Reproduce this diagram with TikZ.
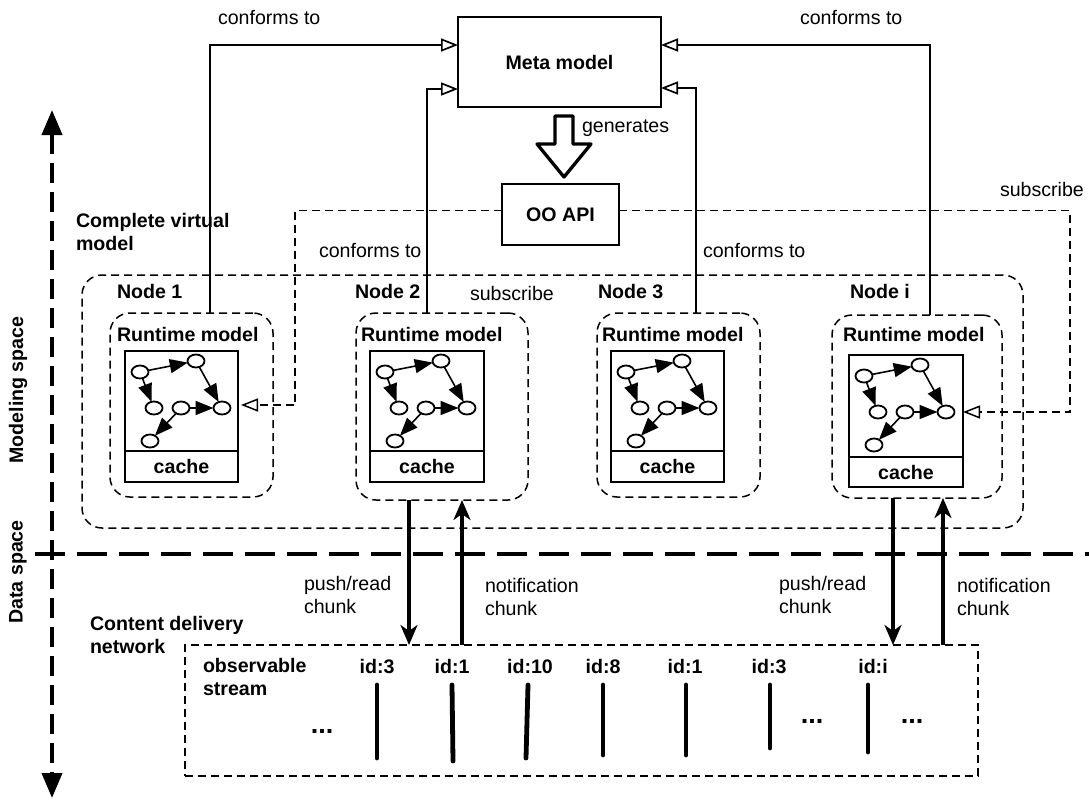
\documentclass[tikz,border=0pt]{standalone}
\usepackage{fontspec}
\setmainfont{Liberation Sans}
\usetikzlibrary{arrows.meta,shapes.geometric,calc}
\newcommand\rtgraph[1]{%
  \begin{scope}[shift={(#1.north west)}]
    \node[gnode] (#1a) at (15,21) {};
    \node[gnode] (#1b) at (71,10) {};
    \node[gnode] (#1c) at (29,57) {};
    \node[gnode] (#1d) at (56,57) {};
    \node[gnode] (#1e) at (97,57) {};
    \node[gnode] (#1f) at (25,90) {};
    \draw[garrow] (#1a) -- (#1b);
    \draw[garrow] (#1a) -- (#1c);
    \draw[garrow] (#1b) -- (#1e);
    \draw[garrow] (#1d) -- (#1e);
    \draw[garrow] (#1d) -- (#1f);
  \end{scope}}
\begin{document}
\begin{tikzpicture}[x=1pt,y=-1pt,
  every node/.style={inner sep=0pt, outer sep=0pt, font=\fontsize{19.6}{23.5}\selectfont},
  txt/.style={anchor=base west},
  bf/.style={font=\fontsize{19.6}{23.5}\selectfont\bfseries},
  btxt/.style={anchor=base west, bf},
  solidbox/.style={draw, line width=1.7pt},
  thindash/.style={line width=1.5pt, dash pattern=on 8pt off 5pt},
  rbox/.style={draw, thindash, rounded corners=20pt},
  conf/.style={line width=1.7pt, -{Triangle[open,length=17pt,width=13pt,fill=white]}},
  subs/.style={thindash, -{Triangle[open,length=17pt,width=13pt,fill=white]}},
  gnode/.style={draw, ellipse, line width=1.8pt, minimum width=17pt, minimum height=13pt, fill=white},
  garrow/.style={line width=1.6pt, -{Triangle[length=18pt,width=14pt]}},
  chunkarrow/.style={line width=3.2pt, -{Stealth[length=20pt,width=17pt,inset=6pt]}},
  bar/.style={line width=4.8pt, line cap=round},
  axis/.style={line width=4pt, dash pattern=on 20pt off 9pt},
  sep/.style={line width=4pt, dash pattern=on 30pt off 12pt},
  dots/.style={anchor=base, font=\fontsize{27}{30}\selectfont\bfseries},
]
\fill[white] (0,0) rectangle (1089,800);
\useasboundingbox (0,0) rectangle (1089,800);

% axis
\coordinate (axtop) at (52,110);
\coordinate (axbot) at (52,798);
\draw[axis, {Triangle[length=25pt,width=20pt]}-{Triangle[length=25pt,width=20pt]}] (axtop) -- (axbot);
\coordinate (sepL) at (35,554);
\coordinate (sepR) at (1089,554);
\draw[sep] (sepL) -- (sepR);
\node[bf, rotate=90] (modsp) at (18,390) {Modeling space};
\node[bf, rotate=90] (datsp) at (18,572) {Data space};

% meta model and API
\node[solidbox, bf, minimum width=203pt, minimum height=90pt] (meta) at (559.5,62) {Meta model};
\node[solidbox, bf, minimum width=117pt, minimum height=61pt] (oo) at (560.5,214.5) {OO API};
\draw[line width=3.3pt, line join=round] (555,116) -- (573,116) -- (573,144) -- (591,144) -- (564,177) -- (537,144) -- (555,144) -- cycle;
\node[txt] (gen) at (582,132) {generates};

% complete virtual model
\node[rbox, minimum width=941pt, minimum height=253pt] (cvm) at (552.5,401.5) {};
\node[bf, anchor=north west, align=left] (cvmlbl) at (76,213) {Complete virtual\\model};

% nodes
\node[rbox, minimum width=163pt, minimum height=184pt] (n1r) at (191.5,405) {};
\node[rbox, minimum width=172pt, minimum height=187pt] (n2r) at (442,406.5) {};
\node[rbox, minimum width=163pt, minimum height=184pt] (n3r) at (678.5,405) {};
\node[rbox, minimum width=170pt, minimum height=183pt] (nir) at (917,406.5) {};

\node[btxt] (n1l) at (117,298) {Node 1};
\node[btxt] (n2l) at (355,298) {Node 2};
\node[btxt] (n3l) at (598,298) {Node 3};
\node[btxt] (nil) at (850,298) {Node i};

\node[btxt] (n1t) at (117,341) {Runtime model};
\node[btxt] (n2t) at (361,341) {Runtime model};
\node[btxt] (n3t) at (602,341) {Runtime model};
\node[btxt] (nit) at (843,341) {Runtime model};

\node[solidbox, minimum width=113pt, minimum height=100pt] (n1g) at (181.5,401) {};
\node[solidbox, bf, minimum width=113pt, minimum height=31pt] (n1c) at (181.5,466.5) {cache};
\node[solidbox, minimum width=114pt, minimum height=100pt] (n2g) at (427,401) {};
\node[solidbox, bf, minimum width=114pt, minimum height=31pt] (n2c) at (427,466.5) {cache};
\node[solidbox, minimum width=113pt, minimum height=100pt] (n3g) at (667.5,401) {};
\node[solidbox, bf, minimum width=113pt, minimum height=31pt] (n3c) at (667.5,466.5) {cache};
\node[solidbox, minimum width=114pt, minimum height=102pt] (nig) at (906,406) {};
\node[solidbox, bf, minimum width=114pt, minimum height=30pt] (nic) at (906,472) {cache};

\rtgraph{n1g}
\rtgraph{n2g}
\rtgraph{n3g}
\rtgraph{nig}

% conforms to
\draw[conf] ($(n1r.north)+(18.5,0)$) |- ($(meta.north west)+(0,28)$);
\draw[conf] ($(n2r.north)+(-15,0)$) |- ($(meta.south west)+(0,-18)$);
\draw[conf] ($(n3r.north)+(17.5,0)$) |- ($(meta.south east)+(0,-19)$);
\draw[conf] ($(nir.north)+(13,0)$) |- ($(meta.north east)+(0,28)$);
\node[txt] (cf1) at (218,25) {conforms to};
\node[txt] (cf2) at (800,25) {conforms to};
\node[txt] (cf3) at (319,257) {conforms to};
\node[txt] (cf4) at (703,257) {conforms to};

% subscribe
\draw[subs] ($(oo.west)+(0,-4)$) -| ($(n1g.east)+(57,4)$) -- ($(n1g.east)+(3,4)$);
\draw[subs] ($(oo.east)+(0,-4)$) -| ($(nig.east)+(107,6)$) -- ($(nig.east)+(0,6)$);
\node[txt] (sub1) at (1000,196) {subscribe};
\node[txt] (sub2) at (470,300) {subscribe};

% content delivery network
\node[bf, anchor=north west, align=left] (cdn) at (90,616) {Content delivery\\network};
\node[draw, thindash, minimum width=793pt, minimum height=131pt] (stream) at (581.5,710.5) {};
\node[bf, anchor=north west, align=left] (obs) at (203,658) {observable\\stream};

% chunk arrows
\coordinate (p2) at ($(n2r.south)+(-33,0)$);
\coordinate (q2) at ($(n2r.south)+(20,0)$);
\coordinate (pi) at ($(nir.south)+(-24,0)$);
\coordinate (qi) at ($(nir.south)+(26,0)$);
\draw[chunkarrow] (p2) -- (p2 |- stream.north);
\draw[chunkarrow] (q2 |- stream.north) -- (q2);
\draw[chunkarrow] (pi) -- (pi |- stream.north);
\draw[chunkarrow] (qi |- stream.north) -- (qi);
\node[anchor=north west, align=left] (pr2) at (304,576) {push/read\\chunk};
\node[anchor=north west, align=left] (nt2) at (485,578) {notification\\chunk};
\node[anchor=north west, align=left] (pri) at (779,576) {push/read\\chunk};
\node[anchor=north west, align=left] (nti) at (957,578) {notification\\chunk};

% stream items
\node[bf, anchor=base] (id1) at (377,673) {id:3};
\node[bf, anchor=base] (id2) at (452,673) {id:1};
\node[bf, anchor=base] (id3) at (530,673) {id:10};
\node[bf, anchor=base] (id4) at (603,673) {id:8};
\node[bf, anchor=base] (id5) at (685,673) {id:1};
\node[bf, anchor=base] (id6) at (769,673) {id:3};
\node[bf, anchor=base] (id7) at (873,673) {id:i};
\draw[bar] (377,685) -- (377,758);
\draw[bar] (452,685) -- (453,761);
\draw[bar] (528,685) -- (526,758);
\draw[bar] (603,685) -- (603,755);
\draw[bar] (686,685) -- (686,755);
\draw[bar] (770,685) -- (770,748);
\draw[bar] (868,685) -- (868,752);
\node[dots] (dots1) at (322,733) {...};
\node[dots] (dots2) at (812,723) {...};
\node[dots] (dots3) at (912,723) {...};
\end{tikzpicture}
\end{document}
